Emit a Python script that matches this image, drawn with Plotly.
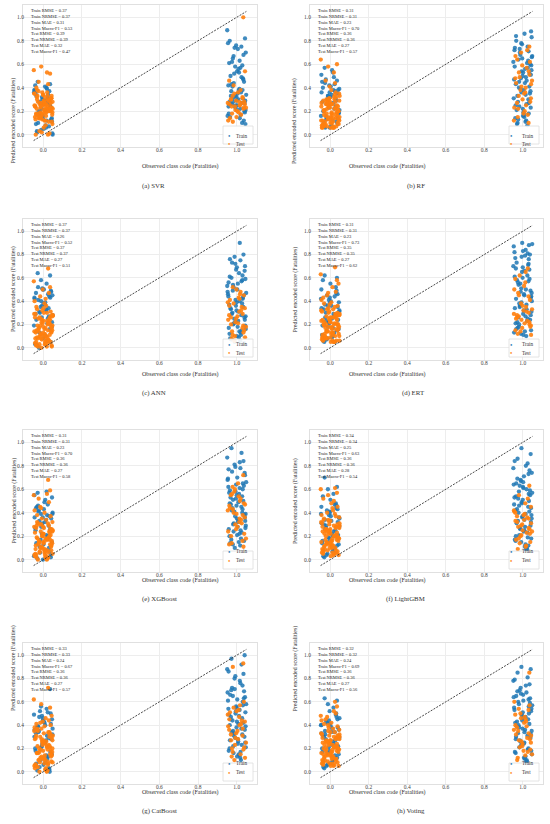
import plotly.graph_objects as go

W, H = 550, 824
FONT = "Liberation Serif, Times New Roman, serif"
TRAIN_COLOR = "#1f77b4"
TEST_COLOR = "#ff7f0e"

MODELS = ["SVR", "RF", "ANN", "ERT", "XGBoost", "LightGBM", "CatBoost", "Voting"]
LETTERS = ["a", "b", "c", "d", "e", "f", "g", "h"]
METRIC_NAMES = ["Train RMSE", "Train NRMSE", "Train MAE", "Train Macro-F1",
                "Test RMSE", "Test NRMSE", "Test MAE", "Test Macro-F1"]
TICKS = [0.0, 0.2, 0.4, 0.6, 0.8, 1.0]
LINE_ENDS = [-0.05, 1.05]
AX_RANGE = [-0.105, 1.105]

svr_metrics = [0.37, 0.37, 0.31, 0.53, 0.39, 0.39, 0.32, 0.47]
rf_metrics = [0.31, 0.31, 0.23, 0.70, 0.36, 0.36, 0.27, 0.57]
ann_metrics = [0.37, 0.37, 0.26, 0.52, 0.37, 0.37, 0.27, 0.51]
ert_metrics = [0.31, 0.31, 0.23, 0.73, 0.35, 0.35, 0.27, 0.62]
xgb_metrics = [0.31, 0.31, 0.23, 0.70, 0.36, 0.36, 0.27, 0.58]
lgbm_metrics = [0.34, 0.34, 0.25, 0.63, 0.36, 0.36, 0.28, 0.54]
cat_metrics = [0.33, 0.33, 0.24, 0.67, 0.36, 0.36, 0.27, 0.57]
vote_metrics = [0.32, 0.32, 0.24, 0.69, 0.36, 0.36, 0.27, 0.56]

# horizontal jitter around the class code, in thousandths
JIT_A = [-31, 12, 44, -8, 27, -45, 3, 38, -19, 21, -40, 9, 47, -27, -2, 33, -36, 16, -11, 41,
         -23, 6, -48, 29, -14, 36, -5, 19, -33, 45, -17, 1, 25, -42, 14, -26, 39, -7, 31, -38,
         10, -21, 48, -3, 23, -46, 17, -12, 35, -29, 4, 42, -35, 20, -9, 30, -44, 13, -16, 37,
         -24, 7, -39, 26, -1, 43, -30, 15, -20, 34]
JIT_B = [18, -37, 5, 42, -22, -4, 31, -47, 11, 26, -15, 46, -30, 0, 37, -10, 22, -41, 8, -25,
         34, -6, 49, -34, 14, -18, 40, -1, 28, -43, 3, -28, 20, 44, -13, 9, -39, 32, -20, 2,
         47, -8, 24, -32, 15, -45, 38, -16, 6, 29, -36, 12, -3, 43, -24, 19, -11, 35, -49, 25,
         -27, 41, -7, 16, -42, 30, 1, -19, 45, -35]
JIT_C = [-43, -12, 22, 47, -28, 6, 35, -5, -37, 15, 41, -20, 1, 29, -46, -9, 19, 44, -32, 11,
         -24, 38, -1, 26, -40, 8, 33, -16, 48, -34]

# predicted scores, in hundredths
svr_train0 = [2, 8, 14, 22, 31, 38, 5, 12, 18, 27, 35, 41, 1, 10, 16, 25, 33, 40, 4, 13, 20, 29, 36, 7, 15,
              24, 30, 39, 3, 11, 19, 26, 34, 42, 6, 17, 23, 32, 37, 9, 21, 28, 0, 14, 31, 38, 12, 26, 43, 45]
svr_test0 = [22, 18, 27, 31, 14, 25, 20, 35, 12, 29, 23, 17, 33, 26, 21, 15, 30, 24, 19, 37, 28, 13, 22, 32,
             16, 26, 20, 34, 11, 24, 29, 18, 36, 23, 27, 21, 0, 1, 3, 6, 9, 2, 0, 38, 19, 25, 31, 15, 28, 22,
             40, 8, 17, 33, 45, 53, 58, 52, 55, 43]
svr_core0 = [15, 24, 33, 19, 28, 12, 22, 36, 17, 26, 31, 14, 21, 29, 35, 18, 25, 11, 30, 23, 16, 27, 34, 20,
             13, 32, 24, 19, 28, 22]
svr_train1 = [22, 28, 35, 19, 41, 25, 31, 16, 38, 27, 44, 21, 33, 29, 12, 24, 36, 18, 30, 26, 47, 23, 34, 15,
              39, 28, 20, 32, 10, 42, 25, 37, 17, 29, 52, 56, 61, 48, 65, 54, 70, 58, 75, 50, 63, 78, 45, 67,
              73, 59, 80, 53, 76, 82, 62, 57, 74, 68, 89, 49, 43, 27, 33, 14, 24, 38, 21, 31, 9, 26]
svr_test1 = [24, 28, 21, 31, 26, 19, 33, 23, 29, 17, 27, 25, 35, 22, 30, 20, 26, 14, 38, 24, 32, 12, 28, 42,
             23, 18, 36, 46, 27, 15, 54, 30, 25, 11, 100]

rf_train0 = [7, 12, 18, 25, 31, 36, 41, 9, 15, 22, 28, 34, 39, 44, 6, 11, 20, 27, 33, 38, 47, 8, 16, 24, 30,
             35, 42, 49, 10, 19, 26, 32, 37, 45, 53, 6, 14, 23, 29, 40, 55, 13, 21, 36, 43, 51, 38, 33, 46, 57]
rf_test0 = [6, 9, 14, 20, 26, 31, 7, 12, 17, 23, 29, 35, 8, 13, 19, 25, 30, 6, 10, 16, 22, 27, 33, 7, 11, 18,
            24, 28, 36, 6, 15, 21, 32, 9, 13, 26, 8, 19, 30, 6, 12, 24, 34, 17, 7, 27, 10, 22, 38, 14, 29, 6,
            41, 20, 46, 53, 58, 60, 64, 44]
rf_core0 = [8, 15, 22, 29, 11, 18, 25, 31, 7, 14, 21, 27, 10, 17, 24, 30, 6, 13, 20, 26, 9, 16, 23, 28, 12,
            19, 32, 7, 15, 21]
rf_train1 = [12, 25, 38, 51, 64, 77, 18, 31, 44, 57, 70, 83, 9, 22, 35, 48, 61, 74, 15, 28, 41, 54, 67, 80,
             11, 24, 37, 50, 63, 72, 19, 33, 46, 59, 68, 86, 14, 27, 40, 53, 66, 78, 8, 21, 34, 47, 60, 73, 17,
             30, 43, 56, 65, 88, 13, 26, 39, 52, 62, 75, 10, 23, 36, 49, 58, 71, 16, 45, 55, 84]
rf_test1 = [15, 28, 41, 54, 67, 20, 33, 46, 59, 72, 12, 25, 38, 51, 64, 18, 31, 44, 57, 70, 10, 23, 36, 49,
            62, 22, 35, 48, 17, 30, 43, 27, 40, 53, 75]

ann_train0 = [2, 10, 18, 26, 34, 42, 50, 5, 13, 21, 29, 37, 45, 52, 8, 16, 24, 32, 40, 48, 0, 11, 19, 27, 35,
              43, 51, 6, 14, 22, 30, 38, 46, 3, 33, 41, 49, 36, 44, 47, 39, 31, 28, 50, 25, 43, 55, 58, 62, 64]
ann_test0 = [1, 5, 9, 13, 17, 21, 25, 29, 3, 7, 11, 15, 19, 23, 27, 0, 4, 8, 12, 16, 20, 24, 28, 2, 6, 10, 14,
             18, 22, 26, 30, 1, 9, 17, 25, 5, 13, 21, 3, 11, 19, 7, 15, 33, 36, 40, 31, 44, 38, 47, 35, 42, 50,
             2, 14, 23, 8, 52, 57, 68]
ann_core0 = [4, 12, 20, 28, 8, 16, 24, 32, 2, 10, 18, 26, 34, 6, 14, 22, 30, 1, 9, 17, 25, 5, 13, 21, 29, 3,
             11, 19, 27, 15]
ann_train1 = [6, 12, 18, 24, 30, 36, 42, 48, 9, 15, 21, 27, 33, 39, 45, 5, 11, 17, 23, 29, 35, 41, 47, 8, 14,
              20, 26, 32, 38, 44, 50, 7, 13, 19, 25, 31, 37, 43, 49, 10, 16, 22, 28, 34, 40, 46, 4, 52, 55, 58,
              61, 64, 67, 70, 73, 75, 78, 80, 53, 57, 60, 66, 72, 90, 56, 62, 69, 54, 59, 76]
ann_test1 = [8, 15, 22, 29, 36, 43, 11, 18, 25, 32, 39, 46, 6, 13, 20, 27, 34, 41, 48, 10, 17, 24, 31, 38, 45,
             14, 21, 28, 35, 50, 9, 26, 42, 52, 19]

ert_train0 = [5, 10, 16, 22, 28, 34, 40, 46, 7, 13, 19, 25, 31, 37, 43, 49, 6, 12, 18, 24, 30, 36, 42, 52, 8,
              15, 21, 27, 33, 39, 45, 55, 5, 11, 17, 26, 35, 41, 47, 58, 9, 23, 32, 38, 44, 50, 29, 36, 60, 62]
ert_test0 = [5, 8, 12, 16, 20, 24, 28, 32, 6, 10, 14, 18, 22, 26, 30, 34, 5, 9, 13, 17, 21, 25, 29, 7, 11, 15,
             19, 23, 27, 31, 5, 12, 20, 28, 8, 16, 24, 6, 14, 22, 10, 18, 35, 38, 33, 41, 36, 45, 39, 48, 43,
             52, 37, 55, 9, 26, 47, 58, 63, 69]
ert_core0 = [7, 14, 21, 28, 10, 17, 24, 31, 6, 13, 20, 27, 9, 16, 23, 30, 5, 12, 19, 26, 8, 15, 22, 29, 11,
             18, 25, 33, 6, 20]
ert_train1 = [10, 21, 32, 43, 54, 65, 76, 87, 14, 25, 36, 47, 58, 69, 80, 12, 23, 34, 45, 56, 67, 78, 89, 16,
              27, 38, 49, 60, 71, 82, 11, 22, 33, 44, 55, 66, 77, 88, 18, 29, 40, 51, 62, 73, 84, 13, 24, 35,
              46, 57, 68, 79, 90, 15, 26, 37, 48, 59, 70, 81, 17, 28, 39, 50, 61, 72, 83, 20, 31, 42]
ert_test1 = [12, 18, 24, 30, 15, 21, 27, 33, 17, 23, 29, 35, 14, 20, 26, 32, 19, 25, 31, 38, 44, 50, 56, 62,
             41, 47, 53, 59, 68, 36, 11, 28, 65, 45, 22]

xgb_train0 = [1, 8, 15, 22, 29, 36, 43, 4, 11, 18, 25, 32, 39, 46, 0, 7, 14, 21, 28, 35, 42, 49, 3, 10, 17,
              24, 31, 38, 45, 53, 6, 13, 20, 27, 34, 41, 2, 30, 37, 44, 51, 33, 40, 36, 47, 55, 58, 39, 26, 57]
xgb_test0 = [0, 4, 8, 12, 16, 20, 24, 28, 2, 6, 10, 14, 18, 22, 26, 30, 1, 5, 9, 13, 17, 21, 25, 29, 3, 7, 11,
             15, 19, 23, 27, 0, 8, 16, 24, 4, 12, 20, 6, 14, 32, 35, 31, 38, 34, 42, 37, 45, 40, 49, 2, 18, 10,
             26, 52, 56, 44, 59, 55, 68]
xgb_core0 = [3, 10, 17, 24, 31, 6, 13, 20, 27, 1, 8, 15, 22, 29, 4, 11, 18, 25, 32, 7, 14, 21, 28, 2, 9, 16,
             23, 30, 5, 19]
xgb_train1 = [12, 20, 28, 36, 44, 52, 60, 68, 15, 23, 31, 39, 47, 55, 63, 10, 18, 26, 34, 42, 50, 58, 66, 14,
              22, 30, 38, 46, 54, 62, 70, 17, 25, 33, 41, 49, 57, 65, 13, 21, 29, 37, 45, 53, 61, 69, 16, 24,
              32, 40, 48, 56, 64, 72, 75, 78, 81, 84, 87, 91, 95, 74, 79, 83, 77, 43, 35, 51, 27, 59]
xgb_test1 = [14, 22, 30, 38, 46, 54, 62, 18, 26, 34, 42, 50, 58, 11, 20, 28, 36, 44, 52, 60, 16, 24, 32, 40,
             48, 56, 65, 13, 31, 39, 47, 55, 35, 43, 72]

lgbm_train0 = [2, 7, 13, 19, 25, 31, 37, 43, 4, 10, 16, 22, 28, 34, 40, 46, 3, 9, 15, 21, 27, 33, 39, 48, 5,
               12, 18, 24, 30, 36, 42, 51, 6, 14, 20, 26, 32, 38, 44, 54, 11, 29, 35, 41, 47, 45, 56, 60, 62, 70]
lgbm_test0 = [4, 8, 12, 16, 20, 24, 28, 32, 6, 10, 14, 18, 22, 26, 30, 34, 5, 9, 13, 17, 21, 25, 29, 7, 11,
              15, 19, 23, 27, 31, 3, 12, 20, 28, 8, 16, 24, 6, 14, 22, 36, 33, 39, 35, 42, 38, 45, 40, 48, 37,
              52, 44, 10, 18, 26, 50, 55, 57, 60, 61]
lgbm_core0 = [6, 13, 20, 27, 9, 16, 23, 30, 5, 12, 19, 26, 33, 8, 15, 22, 29, 4, 11, 18, 25, 7, 14, 21, 28,
              10, 17, 24, 31, 34]
lgbm_train1 = [8, 16, 24, 32, 40, 48, 56, 64, 11, 19, 27, 35, 43, 51, 59, 67, 9, 17, 25, 33, 41, 49, 57, 65,
               13, 21, 29, 37, 45, 53, 61, 69, 10, 18, 26, 34, 42, 50, 58, 66, 74, 15, 23, 31, 39, 47, 55, 63,
               71, 12, 20, 28, 36, 44, 52, 60, 68, 76, 78, 82, 86, 90, 95, 80, 84, 73, 62, 46, 38, 54]
lgbm_test1 = [9, 15, 21, 27, 33, 39, 18, 24, 30, 36, 42, 12, 20, 26, 32, 38, 45, 17, 23, 29, 35, 41, 48, 14,
              22, 28, 34, 40, 52, 25, 31, 37, 11, 55, 63]

cat_train0 = [1, 8, 15, 22, 29, 36, 43, 50, 4, 11, 18, 25, 32, 39, 46, 0, 7, 14, 21, 28, 35, 42, 49, 3, 10,
              17, 24, 31, 38, 45, 52, 6, 13, 20, 27, 34, 41, 48, 2, 33, 40, 47, 37, 44, 51, 30, 54, 56, 71, 39]
cat_test0 = [0, 5, 10, 15, 20, 25, 30, 35, 2, 7, 12, 17, 22, 27, 32, 37, 1, 6, 11, 16, 21, 26, 31, 36, 3, 8,
             13, 18, 23, 28, 33, 4, 9, 14, 19, 24, 29, 34, 0, 12, 20, 28, 6, 16, 26, 38, 40, 42, 39, 44, 41, 46,
             43, 48, 10, 22, 58, 55, 62, 72]
cat_core0 = [3, 11, 19, 27, 35, 7, 15, 23, 31, 1, 9, 17, 25, 33, 5, 13, 21, 29, 37, 2, 10, 18, 26, 34, 6, 14,
             22, 30, 8, 16]
cat_train1 = [12, 20, 28, 36, 44, 52, 60, 68, 15, 23, 31, 39, 47, 55, 63, 71, 10, 18, 26, 34, 42, 50, 58, 66,
              14, 22, 30, 38, 46, 54, 62, 70, 17, 25, 33, 41, 49, 57, 65, 13, 21, 29, 37, 45, 53, 61, 69, 16,
              24, 32, 40, 48, 56, 64, 72, 76, 80, 84, 88, 92, 97, 100, 82, 78, 86, 74, 43, 35, 51, 27]
cat_test1 = [13, 21, 29, 37, 45, 53, 17, 25, 33, 41, 49, 57, 10, 19, 27, 35, 43, 51, 15, 23, 31, 39, 47, 55,
             60, 20, 28, 36, 44, 52, 12, 32, 40, 90, 93]

vote_train0 = [3, 9, 15, 21, 27, 33, 39, 45, 5, 11, 17, 23, 29, 35, 41, 47, 4, 10, 16, 22, 28, 34, 40, 49, 6,
               12, 18, 24, 30, 36, 42, 7, 14, 20, 26, 32, 38, 44, 50, 31, 37, 43, 46, 52, 34, 40, 55, 58, 61, 63]
vote_test0 = [5, 9, 13, 17, 21, 25, 29, 33, 7, 11, 15, 19, 23, 27, 31, 35, 6, 10, 14, 18, 22, 26, 30, 8, 12,
              16, 20, 24, 28, 32, 5, 13, 21, 29, 9, 17, 25, 11, 19, 27, 36, 38, 34, 41, 37, 44, 39, 47, 42, 50,
              15, 23, 7, 31, 45, 52, 40, 56, 48, 60]
vote_core0 = [7, 14, 21, 28, 10, 17, 24, 31, 6, 13, 20, 27, 34, 9, 16, 23, 30, 5, 12, 19, 26, 8, 15, 22, 29,
              11, 18, 25, 32, 20]
vote_train1 = [8, 16, 24, 32, 40, 48, 56, 64, 11, 19, 27, 35, 43, 51, 59, 67, 9, 17, 25, 33, 41, 49, 57, 65,
               13, 21, 29, 37, 45, 53, 61, 69, 10, 18, 26, 34, 42, 50, 58, 66, 15, 23, 31, 39, 47, 55, 63, 70,
               12, 20, 28, 36, 44, 52, 60, 68, 72, 75, 78, 81, 85, 88, 90, 74, 79, 62, 46, 38, 54, 30]
vote_test1 = [12, 19, 26, 33, 40, 47, 54, 15, 22, 29, 36, 43, 50, 57, 10, 18, 25, 32, 39, 46, 53, 60, 14, 21,
              28, 35, 42, 49, 17, 24, 31, 38, 45, 27, 85]

panels = [
    (svr_metrics, svr_train0, svr_test0, svr_core0, svr_train1, svr_test1),
    (rf_metrics, rf_train0, rf_test0, rf_core0, rf_train1, rf_test1),
    (ann_metrics, ann_train0, ann_test0, ann_core0, ann_train1, ann_test1),
    (ert_metrics, ert_train0, ert_test0, ert_core0, ert_train1, ert_test1),
    (xgb_metrics, xgb_train0, xgb_test0, xgb_core0, xgb_train1, xgb_test1),
    (lgbm_metrics, lgbm_train0, lgbm_test0, lgbm_core0, lgbm_train1, lgbm_test1),
    (cat_metrics, cat_train0, cat_test0, cat_core0, cat_train1, cat_test1),
    (vote_metrics, vote_train0, vote_test0, vote_core0, vote_train1, vote_test1),
]

# frame positions in pixels
COL_X = [(23, 257), (310, 543)]
ROW_Y = [(5, 147), (219, 360), (430, 572), (643, 784)]


def px(x):
    return x / W


def py(y):
    return 1 - y / H


def cloud(center, offsets, ys):
    n = min(len(offsets), len(ys))
    return [center + o / 1000 for o in offsets[:n]], [v / 100 for v in ys[:n]]


fig = go.Figure()
annotations = []
shapes = []
axis_font = dict(family=FONT, size=5.5, color="#444444")

for i, (metrics, tr0, te0, co0, tr1, te1) in enumerate(panels):
    r, c = divmod(i, 2)
    x0, x1 = COL_X[c]
    y0, y1 = ROW_Y[r]
    sfx = "" if i == 0 else str(i + 1)
    xa, ya = "x" + sfx, "y" + sfx

    ax_common = dict(range=AX_RANGE, tickvals=TICKS, tickformat=".1f", tickfont=axis_font,
                     showgrid=True, gridcolor="#ededed", gridwidth=0.6, zeroline=False,
                     showline=True, mirror=True, linecolor="#e0e0e0", linewidth=1, ticks="",
                     ticklabelstandoff=-3)
    fig.layout["xaxis" + sfx] = dict(domain=[px(x0), px(x1)], anchor=ya, **ax_common)
    fig.layout["yaxis" + sfx] = dict(domain=[py(y1), py(y0)], anchor=xa, **ax_common)

    tx = cloud(0.0, JIT_A, tr0)
    ex = cloud(0.0, JIT_B, te0)
    cx0 = cloud(0.0, JIT_C, co0)
    tx1 = cloud(1.0, JIT_B, tr1)
    ex1 = cloud(1.0, JIT_A[-len(te1):], te1)

    fig.add_trace(go.Scatter(x=tx[0] + tx1[0], y=tx[1] + tx1[1], mode="markers", xaxis=xa, yaxis=ya,
                             marker=dict(color=TRAIN_COLOR, size=4.3, opacity=0.85), showlegend=False))
    fig.add_trace(go.Scatter(x=ex[0] + cx0[0] + ex1[0], y=ex[1] + cx0[1] + ex1[1], mode="markers",
                             xaxis=xa, yaxis=ya,
                             marker=dict(color=TEST_COLOR, size=4.3, opacity=0.9), showlegend=False))
    fig.add_trace(go.Scatter(x=LINE_ENDS, y=LINE_ENDS, mode="lines", xaxis=xa, yaxis=ya,
                             line=dict(color="#333333", width=0.9, dash="2px,1.3px"), showlegend=False))

    stats = "<br>".join(f"{n} = {v:.2f}" for n, v in zip(METRIC_NAMES, metrics))
    annotations.append(dict(text=stats, xref=xa + " domain", yref=ya + " domain", x=0.025, y=0.99,
                            xanchor="left", yanchor="top", align="left", showarrow=False,
                            font=dict(family=FONT, size=4.5, color="#222222")))

    cx = (x0 + x1) / 2
    annotations.append(dict(text="Observed class code (Fatalities)", xref="paper", yref="paper",
                            x=px(cx), y=py(y1 + 14), showarrow=False,
                            font=dict(family=FONT, size=6, color="#333333")))
    annotations.append(dict(text="Predicted encoded score (Fatalities)", xref="paper", yref="paper",
                            x=px(x0 - 15), y=py((y0 + y1) / 2), textangle=-90, showarrow=False,
                            font=dict(family=FONT, size=6, color="#333333")))
    annotations.append(dict(text=f"({LETTERS[i]}) {MODELS[i]}", xref="paper", yref="paper",
                            x=px(cx), y=py(y1 + 33), showarrow=False,
                            font=dict(family=FONT, size=6.8, color="#333333")))

    # legend box
    shapes.append(dict(type="rect", xref="paper", yref="paper",
                       x0=px(x1 - 34), x1=px(x1 - 4), y0=py(y1 - 3), y1=py(y1 - 21),
                       line=dict(color="#dddddd", width=0.8), fillcolor="rgba(255,255,255,0.9)"))
    for k, (lab, col) in enumerate([("Train", TRAIN_COLOR), ("Test", TEST_COLOR)]):
        yy = py(y1 - 16 + k * 8.5)
        annotations.append(dict(text="●", xref="paper", yref="paper", x=px(x1 - 28), y=yy,
                                showarrow=False, font=dict(size=4, color=col)))
        annotations.append(dict(text=lab, xref="paper", yref="paper", x=px(x1 - 23), y=yy,
                                xanchor="left", showarrow=False,
                                font=dict(family=FONT, size=5.2, color="#333333")))

fig.update_layout(width=W, height=H, margin=dict(l=0, r=0, t=0, b=0),
                  paper_bgcolor="white", plot_bgcolor="white",
                  annotations=annotations, shapes=shapes, showlegend=False,
                  font=dict(family=FONT))
fig.write_html("out.html", config={"displayModeBar": False},
               post_script="document.body.style.margin='0px';")
